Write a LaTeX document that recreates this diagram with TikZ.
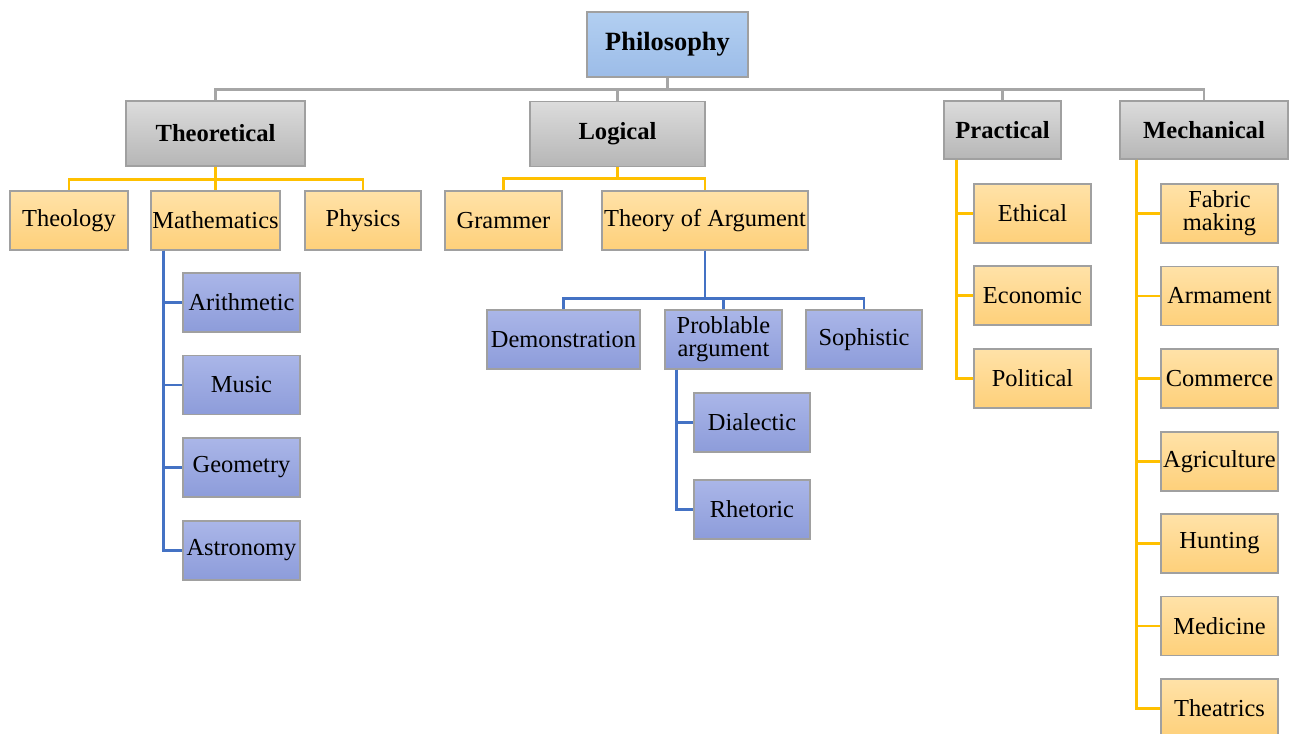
\documentclass[tikz,border=0pt]{standalone}
\usepackage{fontspec}
\setmainfont{Liberation Serif}
\usepackage{tikz}
\usetikzlibrary{arrows.meta}

\definecolor{grayline}{HTML}{A6A6A6}
\definecolor{goldline}{HTML}{FFC000}
\definecolor{blueline}{HTML}{4472C4}
\definecolor{boxedge}{HTML}{A0A0A0}
\definecolor{skytop}{HTML}{B2CFF1}
\definecolor{skybot}{HTML}{9CBCE8}
\definecolor{graytop}{HTML}{DCDCDC}
\definecolor{graybot}{HTML}{B6B6B6}
\definecolor{goldtop}{HTML}{FFE2A8}
\definecolor{goldbot}{HTML}{FED07A}
\definecolor{bluetop}{HTML}{AAB6E8}
\definecolor{bluebot}{HTML}{8D9CDA}

\begin{document}
\begin{tikzpicture}
\useasboundingbox (0,0) rectangle (25.92,-14.66);
\clip (0,0) rectangle (25.92,-14.66);
\begin{scope}[every node/.style={rectangle,draw=boxedge,line width=0.8pt,align=center,
                inner sep=0.5pt,font=\fontsize{13.9}{13.2}\selectfont},
              sky_box/.style={top color=skytop,bottom color=skybot,
                minimum width=3.22cm,minimum height=1.30cm,font=\fontsize{15}{16}\bfseries},
              gray_box/.style={top color=graytop,bottom color=graybot,
                minimum height=1.30cm,font=\fontsize{14}{15}\bfseries},
              gold_box/.style={top color=goldtop,bottom color=goldbot,
                minimum width=2.34cm,minimum height=1.18cm},
              blue_box/.style={top color=bluetop,bottom color=bluebot,
                minimum width=2.34cm,minimum height=1.18cm}]
    \node [sky_box] (Phil) at (13.35, -0.89) {Philosophy};
    % second level
    \node [gray_box, minimum width=3.58cm] (Theor) at (4.31, -2.67) {Theoretical};
    \node [gray_box, minimum width=3.50cm] (Logic) at (12.35, -2.68) {Logical};
    \node [gray_box, minimum width=2.34cm, minimum height=1.16cm] (Pract) at (20.05, -2.60) {Practical};
    \node [gray_box, minimum width=3.36cm, minimum height=1.16cm] (Mech) at (24.08, -2.60) {Mechanical};
    % theoretical
    \node [gold_box, minimum width=2.36cm] (Theol) at (1.38, -4.41) {Theology};
    \node [gold_box, minimum width=2.58cm] (Math) at (4.31, -4.41) {Mathematics};
    \node [gold_box, minimum width=2.32cm] (Phys) at (7.26, -4.41) {Physics};
    \node [blue_box] (Arith) at (4.83, -6.05) {Arithmetic};
    \node [blue_box] (Music) at (4.83, -7.70) {Music};
    \node [blue_box] (Geom) at (4.83, -9.35) {Geometry};
    \node [blue_box] (Astro) at (4.83, -11.01) {Astronomy};
    % logical
    \node [gold_box] (Gram) at (10.07, -4.41) {Grammer};
    \node [gold_box, minimum width=4.12cm] (ArgTh) at (14.10, -4.41) {Theory of Argument};
    \node [blue_box, minimum width=3.06cm] (Demo) at (11.27, -6.79) {Demonstration};
    \node [blue_box] (Prob) at (14.47, -6.79) {Problable\\argument};
    \node [blue_box, minimum width=2.32cm] (Soph) at (17.28, -6.79) {Sophistic};
    \node [blue_box, minimum width=2.32cm] (Dial) at (15.04, -8.45) {Dialectic};
    \node [blue_box, minimum width=2.32cm] (Rhet) at (15.04, -10.19) {Rhetoric};
    % practical
    \node [gold_box] (Ethic) at (20.65, -4.27) {Ethical};
    \node [gold_box] (Econ) at (20.65, -5.91) {Economic};
    \node [gold_box] (Polit) at (20.65, -7.57) {Political};
    % mechanical
    \node [gold_box] (Fabr) at (24.39, -4.27) {Fabric\\making};
    \node [gold_box] (Arma) at (24.39, -5.92) {Armament};
    \node [gold_box] (Comm) at (24.39, -7.57) {Commerce};
    \node [gold_box] (Agri) at (24.39, -9.23) {Agriculture};
    \node [gold_box] (Hunt) at (24.39, -10.87) {Hunting};
    \node [gold_box] (Medi) at (24.39, -12.52) {Medicine};
    \node [gold_box] (Thea) at (24.39, -14.17) {Theatrics};
\end{scope}
\begin{scope}[gray_edge/.style={draw=grayline,line width=1.4pt},
              gold_edge/.style={draw=goldline,line width=1.4pt},
              blue_edge/.style={draw=blueline,line width=1.4pt}]
    \foreach \kid in {Theor,Logic,Pract,Mech}
        \draw [gray_edge] (Phil.south) -- ++(0,-0.24) -| (\kid.north);
    \foreach \kid in {Theol,Math,Phys}
        \draw [gold_edge] (Theor.south) -- ++(0,-0.26) -| (\kid.north);
    \foreach \kid in {Gram,ArgTh}
        \draw [gold_edge] (Logic.south) -- ++(0,-0.23) -| (\kid.north);
    \foreach \kid in {Demo,Prob,Soph}
        \draw [blue_edge] (ArgTh.south) -- ++(0,-0.96) -| (\kid.north);
    \foreach \kid in {Arith,Music,Geom,Astro}
        \draw [blue_edge] ([xshift=0.26cm]Math.south west) |- (\kid.west);
    \foreach \kid in {Dial,Rhet}
        \draw [blue_edge] ([xshift=0.24cm]Prob.south west) |- (\kid.west);
    \foreach \kid in {Ethic,Econ,Polit}
        \draw [gold_edge] ([xshift=0.26cm]Pract.south west) |- (\kid.west);
    \foreach \kid in {Fabr,Arma,Comm,Agri,Hunt,Medi,Thea}
        \draw [gold_edge] ([xshift=0.34cm]Mech.south west) |- (\kid.west);
\end{scope}
\end{tikzpicture}
\end{document}
